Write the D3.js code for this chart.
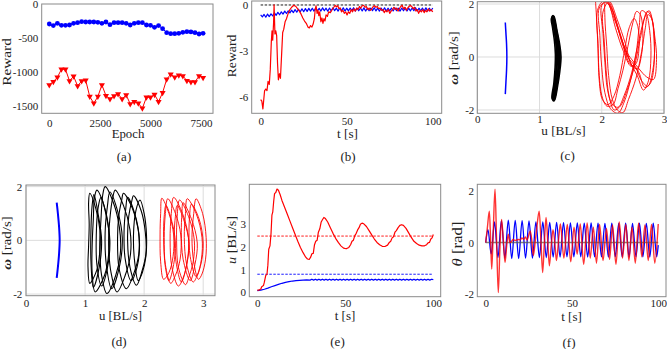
<!DOCTYPE html>
<html><head><meta charset="utf-8">
<script src="https://cdn.jsdelivr.net/npm/d3@7"></script>
<style>body{margin:0;background:#fff}svg{display:block}</style>
</head><body><svg id="c" width="667" height="349"></svg>
<script>
// ---------- DATA ----------
// (a) reward vs epoch
const epochs = [0,200,400,600,800,1000,1200,1400,1600,1800,2000,2200,2400,2600,2800,3000,3200,3400,3600,3800,4000,4200,4400,4600,4800,5000,5200,5400,5600,5800,6000,6200,6400,6600,6800,7000,7200,7400,7600];
const rewardBlueA = [-293,-317,-283,-313,-313,-308,-283,-274,-259,-264,-264,-264,-269,-283,-264,-303,-274,-274,-274,-283,-308,-283,-274,-274,-308,-313,-342,-317,-362,-420,-435,-435,-430,-415,-406,-410,-420,-440,-430];
const rewardRedA = [-1187,-1139,-1075,-958,-958,-1129,-1060,-1202,-1129,-1119,-1358,-1456,-1358,-1187,-1344,-1393,-1349,-1319,-1393,-1334,-1466,-1432,-1456,-1530,-1368,-1368,-1329,-1432,-1300,-1104,-1031,-1075,-1045,-1056,-1124,-1143,-1143,-1056,-1080];
const ticksAx = [0,2500,5000,7500], ticksAy = [-1500,-1000,-500,0];

// (b) reward vs time
const redBt = [0,0.7,1.3,2.3,3,3.7,4.3,5,5.6,6.2,6.6,7.0,7.5,7.8,8.3,8.8,9.3,9.8,10.3,10.9,11.5,12.2,12.8,13.4,14.2,15,16,17,18,19.3,20.5,21.5,22.5,23.5,24.5,25.5,26.5,27.5,28.3,29,29.8,30.5,31.2,31.7,32.2,32.8,33.3,33.8,34.3,35,35.6,36.2,36.8,37.4,38,38.8,39.5,40.5,41.5,42.5,43.3,44,44.8,45.5,46.3,47,47.8,48.6,49.4,50.2,51,51.8,52.6,53.4,54.2,55,55.8,56.6,57.4,58.2,59,59.8,60.6,61.4,62.2,63,63.8,64.6,65.4,66.2,67,67.8,68.6,69.4,70.2,71,71.8,72.6,73.4,74.2,75,75.8,76.6,77.4,78.2,79,79.8,80.6,81.4,82.2,83,83.8,84.6,85.4,86.2,87,87.8,88.6,89.4,90.2,91,91.8,92.6,93.4,94.2,95,95.8,96.6,97.4,98.2,99,100];
const redBv = [-6.2,-6.3,-6.8,-5.6,-5.5,-5.6,-5.0,-5.2,-4.2,-2.4,-1.7,-2.3,-1.2,0.0,-1.9,-1.7,-2.0,-3.8,-4.9,-4.5,-4.8,-3.2,-1.8,-1.6,-1.1,-0.9,-0.55,-0.3,-0.15,-0.02,-0.1,-0.25,-0.4,-0.6,-0.85,-1.05,-1.2,-1.45,-1.5,-1.35,-1.45,-1.25,-0.9,-0.3,-0.05,-0.55,-0.35,-0.7,-0.45,-1.1,-0.85,-1.2,-0.9,-1.05,-0.65,-0.75,-0.45,-0.5,-0.3,-0.15,-0.02,-0.12,-0.05,-0.25,-0.2,-0.45,-0.35,-0.55,-0.45,-0.65,-0.45,-0.55,-0.3,-0.45,-0.25,-0.4,-0.2,-0.3,-0.1,-0.2,-0.05,-0.02,-0.15,-0.1,-0.3,-0.2,-0.35,-0.25,-0.1,-0.05,-0.15,-0.1,-0.25,-0.2,-0.35,-0.3,-0.5,-0.35,-0.45,-0.3,-0.55,-0.4,-0.3,-0.15,-0.3,-0.2,-0.4,-0.25,-0.1,-0.02,-0.25,-0.15,-0.35,-0.2,-0.1,-0.03,-0.1,-0.25,-0.15,-0.4,-0.3,-0.55,-0.35,-0.45,-0.3,-0.5,-0.35,-0.45,-0.25,-0.4,-0.3,-0.45];
const blueBv = [-0.65,-0.78,-0.62,-0.80,-0.60,-0.76,-0.58,-0.72,-0.52,-0.68,-0.48,-0.64,-0.45,-0.60,-0.40,-0.56,-0.38,-0.52,-0.34,-0.50,-0.30,-0.47,-0.28,-0.45,-0.25,-0.44,-0.24,-0.42,-0.22,-0.40,-0.21,-0.40,-0.20,-0.38,-0.22,-0.40,-0.19,-0.38,-0.21,-0.41,-0.20,-0.39,-0.18,-0.37,-0.21,-0.40,-0.20,-0.38,-0.19,-0.40,-0.21,-0.39,-0.20,-0.37,-0.18,-0.40,-0.21,-0.38,-0.20,-0.39,-0.19,-0.40,-0.21,-0.38,-0.20,-0.37,-0.18,-0.39,-0.21,-0.40,-0.20,-0.38,-0.19,-0.40,-0.21,-0.38,-0.20,-0.39,-0.18,-0.37,-0.21,-0.40,-0.20,-0.38,-0.19,-0.40,-0.21,-0.39,-0.20,-0.37,-0.18,-0.40,-0.21,-0.38,-0.20,-0.39,-0.19,-0.40,-0.21,-0.38,-0.20];
const blueBt = [0,1,2,3,4,5,6,7,8,9,10,11,12,13,14,15,16,17,18,19,20,21,22,23,24,25,26,27,28,29,30,31,32,33,34,35,36,37,38,39,40,41,42,43,44,45,46,47,48,49,50,51,52,53,54,55,56,57,58,59,60,61,62,63,64,65,66,67,68,69,70,71,72,73,74,75,76,77,78,79,80,81,82,83,84,85,86,87,88,89,90,91,92,93,94,95,96,97,98,99,100];
const targetB = 0;
const ticksBx = [0,50,100], ticksBy = [-6,-3,0];

// (c) phase portrait
const blueC = [[0.45,1.3],[0.46,0.9],[0.47,0.5],[0.475,0],[0.47,-0.5],[0.46,-0.95],[0.45,-1.4]];
const blackC = [
 [[1.21,1.52],[1.25,1.1],[1.29,0.55],[1.31,0],[1.29,-0.6],[1.26,-1.1],[1.22,-1.62],[1.20,-1.55],[1.23,-1.0],[1.25,-0.4],[1.255,0.1],[1.24,0.6],[1.21,1.1],[1.19,1.45]],
 [[1.22,1.56],[1.27,1.05],[1.31,0.5],[1.33,0],[1.31,-0.55],[1.28,-1.1],[1.23,-1.66],[1.21,-1.6],[1.24,-1.05],[1.27,-0.45],[1.275,0.05],[1.26,0.6],[1.23,1.1],[1.20,1.5]],
 [[1.23,1.54],[1.28,1.0],[1.325,0.45],[1.345,0],[1.325,-0.55],[1.29,-1.1],[1.24,-1.64],[1.22,-1.6],[1.25,-1.0],[1.28,-0.4],[1.29,0.0],[1.28,0.55],[1.24,1.1],[1.21,1.52]],
 [[1.22,1.5],[1.265,1.0],[1.30,0.5],[1.32,0],[1.30,-0.5],[1.27,-1.05],[1.23,-1.6],[1.22,-1.5],[1.245,-1.0],[1.27,-0.4],[1.28,0.0],[1.27,0.55],[1.235,1.05],[1.205,1.48]]
];
const redC = [[1.90,2.10],[1.92,1.3],[1.94,0.3],[1.96,-0.7],[2.00,-1.45],[2.08,-1.85],[2.18,-1.8],[2.26,-1.2],[2.34,-0.5],[2.42,0.4],[2.50,1.3],[2.56,1.72],[2.62,1.6],[2.66,0.9],[2.64,0.1],[2.57,-0.45],[2.48,-0.3],[2.38,0.5],[2.25,1.4],[2.12,2.1],
[2.02,1.7],[2.04,0.6],[2.07,-0.5],[2.12,-1.5],[2.20,-2.0],[2.30,-1.85],[2.40,-1.3],[2.52,-0.4],[2.62,0.7],[2.70,1.55],[2.76,1.75],[2.82,1.3],[2.85,0.4],[2.82,-0.5],[2.74,-1.1],[2.64,-0.9],[2.54,-0.4],[2.45,-0.25],[2.33,0.5],[2.18,1.7],[2.08,2.1],
[1.96,1.85],[1.97,0.8],[2.00,-0.4],[2.05,-1.35],[2.14,-1.95],[2.26,-2.12],[2.36,-1.7],[2.46,-0.9],[2.55,0.1],[2.60,1.1],[2.64,1.75],[2.71,1.65],[2.77,1.0],[2.79,0.0],[2.75,-0.9],[2.67,-1.25],[2.57,-0.7],[2.49,-0.35],[2.38,0.25],[2.24,1.3],[2.10,2.1],
[2.00,1.95],[2.02,0.9],[2.05,-0.2],[2.09,-1.2],[2.16,-1.75],[2.26,-1.9],[2.36,-1.45],[2.48,-0.6],[2.58,0.45],[2.67,1.35],[2.73,1.72],[2.79,1.55],[2.85,0.8],[2.88,-0.1],[2.83,-0.85],[2.72,-0.75],[2.60,-0.45],[2.50,-0.15],[2.41,0.15],[2.27,1.0],[2.14,1.9],[2.02,2.1],
[1.93,1.75],[1.94,0.5],[1.96,-0.9],[2.01,-1.6],[2.10,-1.8],[2.20,-1.45],[2.29,-0.7],[2.37,0.3],[2.44,1.1],[2.52,1.45],[2.58,1.15],[2.60,0.4],[2.55,-0.25],[2.47,-0.35],[2.35,0.2],[2.22,1.1],[2.12,1.95],[2.06,2.1],
[2.05,1.5],[2.08,0.4],[2.11,-0.7],[2.17,-1.6],[2.25,-2.0],[2.34,-2.1],[2.43,-1.6],[2.55,-0.8],[2.64,0.2],[2.70,1.1],[2.74,1.6],[2.80,1.45],[2.84,0.6],[2.84,-0.3],[2.78,-1.0],[2.69,-1.15],[2.60,-0.6],[2.52,-0.3],[2.42,0.0],[2.30,0.8],[2.16,1.7],[2.10,2.1]];
const ticksCx = [0,1,2,3], ticksCy = [-2,0,2];

// (d) phase portrait
const blueD = [[0.52,1.4],[0.54,1.0],[0.56,0.5],[0.57,0],[0.56,-0.5],[0.54,-1.0],[0.52,-1.4]];
const blackD = [
 [[1.08,1.75],[1.18,1.2],[1.25,0.4],[1.25,-0.4],[1.2,-1.1],[1.08,-1.6],[1.05,-1.0],[1.06,-0.2],[1.07,0.6],[1.06,1.4]],
 [[1.2,1.87],[1.32,1.3],[1.40,0.4],[1.40,-0.5],[1.33,-1.3],[1.17,-1.92],[1.12,-1.2],[1.12,-0.2],[1.14,0.8],[1.16,1.6]],
 [[1.34,2.0],[1.48,1.4],[1.58,0.5],[1.6,-0.4],[1.52,-1.3],[1.37,-1.98],[1.28,-1.3],[1.25,-0.3],[1.27,0.8],[1.30,1.7]],
 [[1.51,1.87],[1.65,1.3],[1.76,0.4],[1.77,-0.5],[1.68,-1.3],[1.54,-1.92],[1.44,-1.2],[1.40,-0.2],[1.42,0.8],[1.47,1.6]],
 [[1.65,1.75],[1.80,1.2],[1.90,0.4],[1.91,-0.5],[1.83,-1.2],[1.7,-1.8],[1.58,-1.1],[1.55,-0.1],[1.57,0.9],[1.62,1.5]],
 [[1.82,1.66],[1.95,1.1],[2.02,0.3],[2.03,-0.5],[1.97,-1.1],[1.87,-1.67],[1.76,-1.0],[1.72,0.0],[1.74,0.9],[1.79,1.45]],
 [[1.93,1.5],[2.0,1.0],[2.04,0.2],[2.03,-0.6],[1.97,-1.2],[1.9,-1.5],[1.84,-0.8],[1.82,0.2],[1.86,1.1]],
 [[1.15,1.7],[1.22,1.0],[1.28,0],[1.24,-1.0],[1.14,-1.75],[1.10,-0.8],[1.10,0.4],[1.12,1.3]],
 [[1.27,1.6],[1.36,0.9],[1.42,0],[1.38,-1.0],[1.28,-1.7],[1.2,-0.9],[1.19,0.2],[1.22,1.2]],
 [[1.42,1.8],[1.55,1.1],[1.63,0.1],[1.58,-1.0],[1.45,-1.8],[1.36,-0.9],[1.34,0.3],[1.38,1.3]],
 [[1.72,1.6],[1.84,1.0],[1.92,0],[1.88,-1.0],[1.78,-1.5],[1.68,-0.7],[1.66,0.3],[1.69,1.2]]
];
const redD = [
 [[2.3,1.57],[2.42,1.0],[2.5,0.2],[2.49,-0.6],[2.42,-1.2],[2.33,-1.45],[2.28,-0.8],[2.27,0.2],[2.28,1.0]],
 [[2.4,1.55],[2.53,1.0],[2.62,0.2],[2.61,-0.7],[2.53,-1.3],[2.45,-1.6],[2.36,-0.9],[2.34,0.1],[2.36,1.0]],
 [[2.5,1.6],[2.65,1.0],[2.75,0.1],[2.73,-0.8],[2.66,-1.4],[2.58,-1.7],[2.47,-1.0],[2.44,0.0],[2.46,1.0]],
 [[2.6,1.5],[2.75,0.9],[2.85,0.0],[2.83,-0.8],[2.76,-1.35],[2.7,-1.65],[2.58,-1.0],[2.55,0.0],[2.56,0.9]],
 [[2.73,1.55],[2.88,1.0],[2.98,0.1],[2.97,-0.7],[2.9,-1.3],[2.83,-1.55],[2.72,-0.9],[2.68,0.1],[2.7,1.0]],
 [[2.88,1.55],[2.99,1.0],[3.05,0.1],[3.04,-0.7],[2.98,-1.25],[2.92,-1.45],[2.84,-0.8],[2.81,0.1],[2.84,1.0]],
 [[2.37,1.3],[2.47,0.7],[2.53,-0.1],[2.5,-0.9],[2.42,-1.5],[2.36,-1.0],[2.33,0.1],[2.34,0.9]],
 [[2.56,1.3],[2.68,0.7],[2.76,-0.1],[2.72,-0.9],[2.63,-1.55],[2.54,-0.8],[2.51,0.2],[2.53,0.9]],
 [[2.66,1.4],[2.8,0.8],[2.9,-0.1],[2.86,-0.9],[2.78,-1.5],[2.66,-0.7],[2.63,0.3],[2.64,1.0]],
 [[2.8,1.35],[2.93,0.8],[3.0,-0.1],[2.96,-0.9],[2.88,-1.35],[2.78,-0.6],[2.76,0.3],[2.77,0.9]]
];
const ticksDx = [0,1,2,3], ticksDy = [-2,0,2];

// (e) surge speed vs time
const redEt = [0,1,2,2.5,3.5,4,4.8,5.5,6,6.5,7.2,7.8,8.3,8.8,9.3,9.8,10.5,11.2,12,13,14,15.5,17,18.5,20,21.5,23,24.5,26,27.5,28.5,29.5,30.3,31,31.8,32.5,33.2,34,34.7,35.5,36.3,37,37.8,38.7,40,41.5,43,44.5,46,47.5,49,50.5,52,53,53.8,54.6,55.4,56.2,57,57.8,58.6,59.5,60.5,62,63.5,65,66.5,68,69.5,71,72.5,74,75,75.8,76.6,77.4,78.2,79,80,81,82,83,84.5,86,87.5,89,90.5,92,93.5,95,96.2,97,97.8,98.6,99.3,100];
const redEv = [0.1,0.1,0.15,0.25,0.3,0.45,0.75,0.8,1.2,1.9,2.05,2.6,3.4,3.55,4.0,4.35,4.4,4.55,4.5,4.3,4.05,3.75,3.45,3.15,2.85,2.55,2.25,1.98,1.75,1.55,1.47,1.45,1.55,1.7,1.72,2.1,2.25,2.3,2.65,2.8,3.1,3.2,3.3,3.25,3.1,2.85,2.6,2.38,2.2,2.05,1.95,1.92,1.98,2.1,2.25,2.3,2.5,2.6,2.75,2.85,3.0,3.05,3.02,2.9,2.72,2.53,2.35,2.2,2.1,2.03,2.02,2.08,2.2,2.25,2.4,2.45,2.65,2.72,2.85,2.95,2.98,2.95,2.82,2.62,2.42,2.25,2.15,2.08,2.05,2.05,2.1,2.18,2.2,2.35,2.4,2.55];
const blueEt = [0,2,4,6,8,10,12,14,16,18,20,22,24,26,28,30,31,32,33,34,35,36,37,38,39,40,41,42,43,44,45,46,47,48,49,50,51,52,53,54,55,56,57,58,59,60,61,62,63,64,65,66,67,68,69,70,71,72,73,74,75,76,77,78,79,80,81,82,83,84,85,86,87,88,89,90,91,92,93,94,95,96,97,98,99,100];
const blueEv = [0.08,0.1,0.14,0.19,0.25,0.3,0.35,0.4,0.44,0.47,0.5,0.52,0.53,0.54,0.55,0.54,0.58,0.54,0.58,0.54,0.58,0.54,0.58,0.54,0.58,0.54,0.58,0.54,0.58,0.54,0.58,0.54,0.58,0.54,0.58,0.54,0.58,0.54,0.58,0.54,0.58,0.54,0.58,0.54,0.58,0.54,0.58,0.54,0.58,0.54,0.58,0.54,0.58,0.54,0.58,0.54,0.58,0.54,0.58,0.54,0.58,0.54,0.58,0.54,0.58,0.54,0.58,0.54,0.58,0.54,0.58,0.54,0.58,0.54,0.58,0.54,0.58,0.54,0.58,0.54,0.58,0.54,0.58,0.54,0.58,0.56];
const targetRedE = 2.48, targetBlueE = 0.8;
const ticksEx = [0,50,100], ticksEy = [0,1,2,3];

// (f) heading vs time
const blueFt = [0,1.3,3.2,5.1,7.1,9.1,11.1,13.1,15.1,17.1,19.1,21.1,23.1,25.1,27.1,29.1,31.1,33.1,35.1,37.1,39.1,41.1,43.1,45.1,47.1,49.1,51.1,53.1,55.1,57.1,59.1,61.1,63.1,65.1,67.1,69.1,71.1,73.1,75.1,77.1,79.1,81.1,83.1,85.1,87.1,89.1,91.1,93.1,95.1,97.1,99.1,100];
const blueFv = [0,0.5,-0.45,0.8,-0.58,0.85,-0.6,0.87,-0.62,0.86,-0.62,0.85,-0.6,0.84,-0.6,0.8,-0.58,0.8,-0.58,0.78,-0.56,0.78,-0.56,0.77,-0.55,0.76,-0.55,0.76,-0.55,0.75,-0.56,0.76,-0.55,0.75,-0.55,0.74,-0.56,0.75,-0.55,0.74,-0.55,0.75,-0.56,0.74,-0.55,0.75,-0.55,0.74,-0.56,0.75,-0.55,-0.1];
const redFt = [0,1.0,2.1,2.8,3.5,4.4,5.4,6.3,7.3,8.2,9.2,10.2,11.2,12.2,13.1,14,15,16,17,18,19,20,21,22,23,24,25,25.8,26.7,27.6,28.8,29.5,31,32,33,34,35,36,36.9,38,39,40.3,41,42.5,43.3,45.3,47.3,49.3,51.2,53,54.8,56.8,58.8,60.6,62.4,64.2,66,68,70,71.8,73.5,75.5,77.4,79.3,81.2,83,84.8,86.7,88.6,90.5,92.3,94.2,96.1,98,100];
const redFv = [0,0.6,1.22,0.2,-1.03,0.5,2.07,0.1,-1.94,-0.3,0.9,0.1,-0.77,-0.1,0.32,0.0,0.05,0.12,0.08,0.1,0.12,0.1,0.18,0.12,0.22,0.1,0.3,0.45,0.1,-0.5,0.1,0.5,1.22,0.1,-1.16,0.0,0.97,0.0,-0.9,-0.1,0.5,-0.2,-0.7,0.3,0.72,-0.6,0.7,-0.75,0.6,-0.45,0.72,-0.85,0.76,-0.6,0.6,-0.8,0.7,-0.7,0.55,-0.65,0.68,-0.85,0.8,-0.6,0.7,-0.7,0.6,-0.8,0.75,-0.55,0.68,-0.7,0.7,-0.8,0.72];
const targetF = 0;
const ticksFx = [0,50,100], ticksFy = [-2,0,2];

// ---------- DRAWING ----------
const svg = d3.select("#c");
const FONT = "'Liberation Serif','Times New Roman',serif";
const RED = "#ff0000", BLUE = "#0000ff";
const defs = svg.append("defs");
let clipN = 0;

function makePanel(c) {
  const x = d3.scaleLinear().domain(c.xd).range([c.l, c.r]);
  const y = d3.scaleLinear().domain(c.yd).range([c.b, c.t]);
  const g = svg.append("g");
  const id = "clip" + (clipN++);
  defs.append("clipPath").attr("id", id).append("rect")
    .attr("x", c.l).attr("y", c.t).attr("width", c.r - c.l).attr("height", c.b - c.t);
  if (c.grid) {
    g.selectAll(null).data(c.xt).enter().append("line")
      .attr("x1", d => x(d)).attr("x2", d => x(d)).attr("y1", c.t).attr("y2", c.b)
      .attr("stroke", "#dcdcdc").attr("stroke-width", 1);
    g.selectAll(null).data(c.yt).enter().append("line")
      .attr("y1", d => y(d)).attr("y2", d => y(d)).attr("x1", c.l).attr("x2", c.r)
      .attr("stroke", "#dcdcdc").attr("stroke-width", 1);
  }
  const plot = g.append("g").attr("clip-path", `url(#${id})`);
  const xa = g.append("g").attr("transform", `translate(0,${c.b})`)
    .call(d3.axisBottom(x).tickValues(c.xt).tickSize(0).tickPadding(c.xp).tickFormat(d => String(d)));
  const ya = g.append("g").attr("transform", `translate(${c.l},0)`)
    .call(d3.axisLeft(y).tickValues(c.yt).tickSize(0).tickPadding(c.yp).tickFormat(d => String(d)));
  [xa, ya].forEach(a => {
    a.select(".domain").remove();
    a.selectAll("text").attr("font-family", FONT).attr("font-size", 11).attr("fill", "#222");
  });
  g.append("rect").attr("x", c.l).attr("y", c.t).attr("width", c.r - c.l).attr("height", c.b - c.t)
    .attr("fill", "none").attr("stroke", "#8a8a8a").attr("stroke-width", 1);
  // labels
  const xl = g.append("text").attr("x", c.xlx).attr("y", c.xly).attr("text-anchor", "middle")
    .attr("font-family", FONT).attr("font-size", c.xls).attr("fill", "#222");
  c.xlabel.forEach(s => xl.append("tspan").text(s[0]).attr("font-style", s[1] ? "italic" : null).attr("font-weight", s[2] ? "bold" : null));
  const yl = g.append("text").attr("transform", `translate(${c.ylx},${c.yly}) rotate(-90) scale(${c.ysc || 1},1)`).attr("dy", "0.35em")
    .attr("text-anchor", "middle").attr("font-family", FONT).attr("font-size", c.yls).attr("fill", "#222");
  c.ylabel.forEach(s => yl.append("tspan").text(s[0]).attr("font-style", s[1] ? "italic" : null).attr("font-weight", s[2] ? "bold" : null));
  g.append("text").attr("x", c.capx).attr("y", c.capy).attr("text-anchor", "middle")
    .attr("font-family", FONT).attr("font-size", 13).attr("fill", "#222").text(c.cap);
  return {x, y, plot};
}

function drawLine(P, pts, color, w, curve, extra) {
  const ln = d3.line().x(d => P.x(d[0])).y(d => P.y(d[1])).curve(curve || d3.curveLinear);
  const p = P.plot.append("path").attr("d", ln(pts)).attr("fill", "none")
    .attr("stroke", color).attr("stroke-width", w).attr("stroke-linejoin", "round");
  if (extra) extra(p);
  return p;
}
const zip = (a, b) => a.map((v, i) => [v, b[i]]);

// (a)
const A = makePanel({l:41.7, r:213, t:4, b:113.3, xd:[-375,8090], yd:[-1603,0], xt:ticksAx, yt:ticksAy, xp:6, yp:3.4,
  xlabel:[["Epoch"]], xlx:128, xly:138, xls:12.8, ylabel:[["Reward"]], ylx:6.8, yly:62, yls:13, ysc:1.18, cap:"(a)", capx:124, capy:161});
drawLine(A, zip(epochs, rewardBlueA), BLUE, 1);
drawLine(A, zip(epochs, rewardRedA), RED, 1);
A.plot.selectAll(null).data(zip(epochs, rewardBlueA)).enter().append("circle")
  .attr("cx", d => A.x(d[0])).attr("cy", d => A.y(d[1])).attr("r", 2.4).attr("fill", BLUE);
A.plot.selectAll(null).data(zip(epochs, rewardRedA)).enter().append("path")
  .attr("d", d3.symbol(d3.symbolTriangle, 16))
  .attr("transform", d => `translate(${A.x(d[0])},${A.y(d[1])}) rotate(180)`).attr("fill", RED);

// (b)
const B = makePanel({l:251.7, r:441.7, t:1, b:113.3, xd:[-5.2,105.2], yd:[-7.09,0.26], xt:ticksBx, yt:ticksBy, xp:4, yp:3.4,
  xlabel:[["t [s]"]], xlx:347.5, xly:137.8, xls:13.2, ylabel:[["Reward"]], ylx:231.5, yly:56, yls:12.5, ysc:1.1, cap:"(b)", capx:348, capy:161});
drawLine(B, [[0,targetB],[100,targetB]], "#000", 0.9, null, p => p.attr("stroke-dasharray", "2.5,1.5"));
drawLine(B, zip(blueBt, blueBv), BLUE, 1.2);
drawLine(B, zip(redBt, redBv), RED, 1.2);

// (c)
const C = makePanel({l:477.3, r:664, t:1.7, b:113.3, xd:[0,3], yd:[-2.125,2.087], xt:ticksCx, yt:ticksCy, xp:2, yp:3, grid:true,
  xlabel:[["u [BL/s]"]], xlx:563.5, xly:135, xls:13.2, ylabel:[["ω",1,1],[" [rad/s]"]], ylx:453.5, yly:58, yls:13, ysc:1.15, cap:"(c)", capx:567.5, capy:160});
drawLine(C, blueC, BLUE, 1.5, d3.curveCatmullRom);
blackC.forEach(loop => drawLine(C, loop, "#000", 1.6, d3.curveCatmullRomClosed));
drawLine(C, redC, RED, 0.9, d3.curveCatmullRom);

// (d)
const D = makePanel({l:26, r:215, t:185, b:295.7, xd:[0,3.2], yd:[-2.06,2.06], xt:ticksDx, yt:ticksDy, xp:3.4, yp:3.7, grid:true,
  xlabel:[["u [BL/s]"]], xlx:120.5, xly:320.3, xls:12.8, ylabel:[["ω",1,1],[" [rad/s]"]], ylx:6.2, yly:243, yls:13, ysc:1.15, cap:"(d)", capx:119, capy:346});
drawLine(D, blueD, BLUE, 2, d3.curveCatmullRom);
blackD.forEach(loop => drawLine(D, loop, "#000", 1.1, d3.curveCatmullRomClosed));
redD.forEach(loop => drawLine(D, loop, RED, 0.9, d3.curveCatmullRomClosed));

// (e)
const E = makePanel({l:249.3, r:440.7, t:184.3, b:296.7, xd:[-4.55,104.2], yd:[-0.19,4.76], xt:ticksEx, yt:ticksEy, xp:2.4, yp:3.3,
  xlabel:[["t [s]"]], xlx:345, xly:319.5, xls:13, ylabel:[["u",1],[" [BL/s]"]], ylx:231.7, yly:240, yls:13, ysc:1.1, cap:"(e)", capx:337.5, capy:346});
drawLine(E, [[0,targetRedE],[100,targetRedE]], RED, 0.9, null, p => p.attr("stroke-dasharray", "2.5,1.5"));
drawLine(E, [[0,targetBlueE],[100,targetBlueE]], BLUE, 0.9, null, p => p.attr("stroke-dasharray", "2.5,1.5"));
drawLine(E, zip(blueEt, blueEv), BLUE, 1.2);
drawLine(E, zip(redEt, redEv), RED, 1.2);

// (f)
const F = makePanel({l:477.3, r:666, t:184.3, b:296.7, xd:[-4.87,104.5], yd:[-2.1,2.26], xt:ticksFx, yt:ticksFy, xp:2.4, yp:3.3,
  xlabel:[["t [s]"]], xlx:571.5, xly:320.5, xls:13, ylabel:[["θ",1],[" [rad]"]], ylx:456.7, yly:244, yls:14, ysc:1.2, cap:"(f)", capx:569, capy:347});
drawLine(F, zip(blueFt, blueFv), BLUE, 1.3, d3.curveMonotoneX);
drawLine(F, [[0,targetF],[100,targetF]], "#555", 1.5, null, p => p.attr("opacity", 0.75));
drawLine(F, zip(redFt, redFv), RED, 1.4, d3.curveMonotoneX, p => p.attr("opacity", 0.8));
</script></body></html>
